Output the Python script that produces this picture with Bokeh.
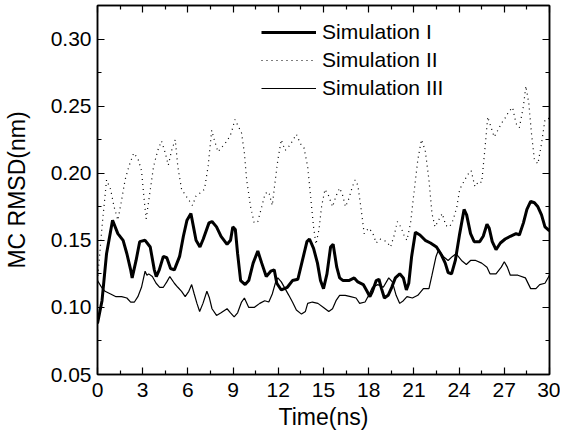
from bokeh.plotting import figure
from bokeh.models import LinearAxis, Legend, LegendItem, FixedTicker, PrintfTickFormatter, Range1d
from bokeh.embed import file_html
from bokeh.resources import INLINE

sim1 = [(0,0.088),(0.3,0.105),(0.6,0.140),(1.0,0.165),(1.35,0.155),(1.7,0.150),(1.95,0.140),(2.2,0.128),(2.3,0.122),(2.56,0.135),(2.8,0.149),(3.16,0.150),(3.5,0.145),(3.77,0.128),(3.9,0.123),(4.1,0.128),(4.37,0.138),(4.6,0.137),(4.85,0.129),(5.1,0.128),(5.45,0.138),(5.7,0.153),(5.94,0.165),(6.2,0.170),(6.37,0.160),(6.54,0.150),(6.8,0.145),(7.02,0.151),(7.4,0.163),(7.6,0.164),(7.9,0.160),(8.2,0.153),(8.6,0.147),(8.83,0.150),(8.98,0.160),(9.15,0.158),(9.3,0.140),(9.5,0.120),(9.8,0.117),(10.04,0.120),(10.33,0.133),(10.64,0.142),(10.9,0.133),(11.2,0.123),(11.5,0.127),(11.73,0.128),(11.9,0.118),(12.2,0.113),(12.6,0.115),(12.94,0.120),(13.3,0.121),(13.6,0.135),(13.9,0.149),(14.07,0.151),(14.34,0.144),(14.6,0.133),(14.8,0.120),(15.0,0.114),(15.23,0.125),(15.47,0.145),(15.64,0.147),(15.88,0.130),(16.07,0.122),(16.3,0.120),(16.68,0.120),(17.04,0.122),(17.28,0.119),(17.64,0.117),(17.89,0.112),(18.08,0.108),(18.25,0.112),(18.5,0.120),(18.68,0.121),(18.85,0.114),(19.04,0.107),(19.29,0.109),(19.53,0.115),(19.77,0.122),(20.06,0.125),(20.3,0.122),(20.5,0.113),(20.66,0.118),(20.85,0.138),(21.1,0.156),(21.4,0.154),(21.75,0.150),(22.1,0.148),(22.5,0.145),(22.83,0.139),(23.08,0.133),(23.27,0.126),(23.5,0.125),(23.75,0.135),(24.04,0.155),(24.33,0.173),(24.5,0.169),(24.76,0.155),(25.0,0.149),(25.37,0.149),(25.6,0.153),(25.85,0.162),(26.0,0.159),(26.2,0.149),(26.45,0.143),(26.74,0.148),(27.06,0.151),(27.4,0.153),(27.78,0.155),(28.0,0.154),(28.27,0.163),(28.5,0.173),(28.75,0.179),(29.0,0.178),(29.23,0.175),(29.47,0.169),(29.7,0.160),(30.0,0.157)]

sim2 = [(0,0.120),(0.3,0.160),(0.6,0.195),(0.87,0.188),(1.1,0.175),(1.35,0.165),(1.6,0.180),(1.83,0.195),(2.08,0.205),(2.4,0.215),(2.68,0.211),(2.92,0.202),(3.1,0.180),(3.23,0.166),(3.47,0.185),(3.72,0.205),(4.0,0.217),(4.25,0.224),(4.5,0.215),(4.7,0.206),(4.92,0.217),(5.16,0.225),(5.33,0.205),(5.58,0.188),(5.82,0.184),(6.06,0.180),(6.3,0.176),(6.54,0.183),(6.78,0.185),(7.1,0.188),(7.34,0.205),(7.58,0.232),(7.75,0.225),(7.99,0.216),(8.3,0.220),(8.6,0.224),(8.88,0.230),(9.12,0.240),(9.3,0.236),(9.56,0.230),(9.75,0.215),(9.9,0.195),(10.16,0.175),(10.4,0.163),(10.64,0.164),(10.9,0.175),(11.13,0.185),(11.37,0.186),(11.6,0.176),(11.78,0.193),(11.97,0.210),(12.2,0.225),(12.45,0.217),(12.7,0.220),(12.94,0.224),(13.2,0.229),(13.47,0.222),(13.7,0.219),(13.95,0.205),(14.14,0.183),(14.34,0.160),(14.5,0.147),(14.7,0.158),(14.87,0.175),(15.1,0.188),(15.35,0.183),(15.6,0.175),(15.83,0.183),(16.07,0.189),(16.26,0.184),(16.46,0.175),(16.68,0.181),(16.92,0.190),(17.1,0.195),(17.28,0.191),(17.5,0.173),(17.7,0.155),(18.0,0.159),(18.25,0.156),(18.5,0.148),(18.73,0.151),(18.97,0.150),(19.2,0.149),(19.45,0.145),(19.7,0.154),(19.9,0.164),(20.13,0.160),(20.37,0.153),(20.54,0.150),(20.78,0.163),(21.0,0.185),(21.26,0.210),(21.5,0.225),(21.75,0.217),(22.0,0.195),(22.2,0.170),(22.4,0.160),(22.64,0.165),(22.88,0.170),(23.12,0.161),(23.37,0.160),(23.6,0.165),(23.85,0.175),(24.04,0.188),(24.28,0.193),(24.57,0.199),(24.8,0.202),(25.05,0.190),(25.3,0.194),(25.5,0.193),(25.73,0.220),(25.9,0.242),(26.1,0.235),(26.33,0.227),(26.57,0.232),(26.8,0.237),(27.05,0.241),(27.3,0.246),(27.55,0.249),(27.78,0.237),(28.0,0.234),(28.27,0.250),(28.43,0.265),(28.63,0.252),(28.8,0.230),(29.0,0.210),(29.23,0.207),(29.47,0.222),(29.7,0.240),(30.0,0.241)]

sim3 = [(0,0.120),(0.27,0.115),(0.5,0.112),(0.87,0.110),(1.23,0.108),(1.6,0.108),(1.95,0.107),(2.2,0.104),(2.45,0.104),(2.68,0.108),(2.92,0.115),(3.16,0.127),(3.28,0.124),(3.4,0.125),(3.64,0.123),(3.89,0.118),(4.13,0.115),(4.37,0.115),(4.6,0.119),(4.8,0.123),(5.1,0.118),(5.33,0.115),(5.58,0.112),(5.82,0.108),(6.06,0.112),(6.25,0.117),(6.42,0.110),(6.6,0.103),(6.78,0.097),(7.0,0.103),(7.26,0.112),(7.43,0.107),(7.6,0.099),(7.9,0.094),(8.2,0.096),(8.6,0.099),(8.83,0.096),(9.07,0.093),(9.3,0.096),(9.56,0.104),(9.75,0.107),(10.04,0.100),(10.4,0.100),(10.77,0.103),(11.1,0.105),(11.37,0.104),(11.6,0.110),(11.85,0.120),(11.97,0.122),(12.2,0.119),(12.45,0.114),(12.7,0.109),(12.94,0.104),(13.2,0.098),(13.54,0.095),(13.8,0.097),(13.95,0.103),(14.26,0.104),(14.63,0.103),(15.0,0.100),(15.35,0.097),(15.6,0.099),(15.83,0.105),(16.07,0.109),(16.44,0.109),(16.8,0.108),(17.16,0.107),(17.4,0.103),(17.76,0.104),(18.0,0.109),(18.25,0.115),(18.6,0.117),(18.97,0.115),(19.33,0.122),(19.57,0.119),(19.82,0.109),(20.06,0.103),(20.3,0.105),(20.54,0.108),(20.9,0.107),(21.26,0.109),(21.63,0.114),(22.0,0.114),(22.2,0.124),(22.47,0.138),(22.64,0.143),(22.95,0.138),(23.27,0.135),(23.56,0.138),(23.8,0.140),(24.16,0.135),(24.48,0.132),(24.76,0.135),(25.1,0.135),(25.5,0.133),(25.85,0.130),(26.05,0.125),(26.45,0.125),(26.8,0.130),(27.0,0.134),(27.2,0.130),(27.4,0.124),(27.9,0.124),(28.4,0.122),(28.75,0.114),(29.1,0.114),(29.35,0.117),(29.7,0.118),(30.0,0.124)]

labels = ["Simulation I", "Simulation II", "Simulation III"]
x_ticks = [0, 3, 6, 9, 12, 15, 18, 21, 24, 27, 30]
x_minor = [1.5, 4.5, 7.5, 10.5, 13.5, 16.5, 19.5, 22.5, 25.5, 28.5]
y_ticks = [0.05, 0.10, 0.15, 0.20, 0.25, 0.30]
y_minor = [0.075, 0.125, 0.175, 0.225, 0.275]

FONT = "Liberation Sans"

p = figure(width=560, height=432, output_backend="svg", toolbar_location=None,
           x_range=Range1d(0, 30), y_range=Range1d(0.05, 0.325),
           min_border_left=95, min_border_right=11, min_border_top=5, min_border_bottom=10)
p.grid.visible = False
p.outline_line_color = "black"
p.outline_line_width = 1.5
p.background_fill_color = "white"
p.border_fill_color = "white"

def style_axis(ax, show_labels):
    ax.axis_line_width = 1.5
    ax.axis_line_color = "black"
    ax.major_tick_in = 7
    ax.major_tick_out = 0
    ax.minor_tick_in = 4
    ax.minor_tick_out = 0
    ax.major_tick_line_width = 1.2
    ax.minor_tick_line_width = 1.2
    ax.major_label_text_font = FONT
    ax.major_label_text_color = "black"
    ax.axis_label_text_font = FONT
    ax.axis_label_text_font_style = "normal"
    ax.axis_label_text_color = "black"
    if show_labels:
        ax.major_label_text_font_size = "21px"
        ax.axis_label_text_font_size = "23px"
    else:
        ax.major_label_text_font_size = "0px"
        ax.major_label_standoff = 0

xa = p.xaxis[0]
xa.ticker = FixedTicker(ticks=x_ticks, minor_ticks=x_minor)
xa.axis_label = "Time(ns)"
xa.major_label_standoff = 8
xa.axis_label_standoff = 4
style_axis(xa, True)

ya = p.yaxis[0]
ya.ticker = FixedTicker(ticks=y_ticks, minor_ticks=y_minor)
ya.formatter = PrintfTickFormatter(format="%.2f")
ya.axis_label = "MC RMSD(nm)"
ya.major_label_standoff = 6
ya.axis_label_standoff = 18
style_axis(ya, True)

top = LinearAxis(ticker=FixedTicker(ticks=x_ticks, minor_ticks=x_minor))
style_axis(top, False)
p.add_layout(top, "above")
right = LinearAxis(ticker=FixedTicker(ticks=y_ticks, minor_ticks=y_minor))
style_axis(right, False)
p.add_layout(right, "right")

r1 = p.line([a for a, b in sim1], [b for a, b in sim1], line_color="black", line_width=3)
r2 = p.line([a for a, b in sim2], [b for a, b in sim2], line_color="black", line_width=1.2, line_dash="1 4")
r3 = p.line([a for a, b in sim3], [b for a, b in sim3], line_color="black", line_width=1.2)

legend = Legend(items=[LegendItem(label=labels[0], renderers=[r1]),
                       LegendItem(label=labels[1], renderers=[r2]),
                       LegendItem(label=labels[2], renderers=[r3])],
                location=(164, 272), orientation="vertical")
legend.border_line_color = None
legend.background_fill_alpha = 0
legend.padding = 0
legend.margin = 0
legend.spacing = 0
legend.glyph_width = 55
legend.glyph_height = 28
legend.label_height = 28
legend.label_standoff = 6
legend.label_text_font = FONT
legend.label_text_font_size = "21px"
legend.label_text_color = "black"
p.add_layout(legend)

open("out.html", "w").write(file_html(p, INLINE))
